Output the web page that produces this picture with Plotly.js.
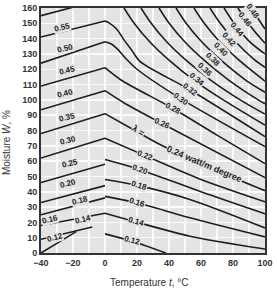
<!DOCTYPE html>
<html><head><meta charset="utf-8">
<script src="https://cdn.plot.ly/plotly-3.0.1.min.js"></script>
<style>body{margin:0;background:#fff}</style>
</head><body><div id="chart" style="width:277px;height:291px"></div>
<script>
// ---- frozen zone (t <= 0): straight lines, W at t=-40 and t=0
const frozenT = [-40, 0];
const frozenW = [[155,166],[141,151.5],[124,138],[109,121],[93.5,106],[78,91],[62,75],[46,58],[33,44],[25,36],[18,26]];
const frozenLowT = [[-40,-8],[-40,-18]];
const frozenLowW = [[9,17],[0,14]];
// ---- thawed zone (t >= 0): lines of constant conductivity
const thawT = {
  '0.12':[0,17.5,38], '0.14':[0,19.4,53,100], '0.16':[0,20,53,100], '0.18':[0,21,53,100],
  '0.20':[0,22,60,100], '0.22':[0,25,60,100], '0.24':[0,17,35.6,87.5,100], '0.26':[0,12,35.6,100],
  '0.28':[0,10,42.5,70,100], '0.30':[0,4,8,13,20,47.8,100], '0.32':[0,3,7.5,12,17,22,53,100],
  '0.34':[11.9,18.1,27.5,40,55.6,74.4,100], '0.36':[22.5,28.75,38.1,50.6,66.25,85,100],
  '0.38':[33.75,40,49.4,61.9,77.5,96.25,100], '0.40':[44.4,50.6,60,72.5,88.1,100],
  '0.42':[55.6,61.9,71.25,83.75,100], '0.44':[65.6,71.9,81.25,93.75,100], '0.46':[74.4,80.6,90,100],
  '0.48':[83.1,89.4,98.75,100], '0.50':[91.3,97.5,100]
};
const thawW = {
  '0.12':[12.5,7.5,0], '0.14':[26,20.3,11,2.6], '0.16':[37,32.8,23,10.5], '0.18':[48,44,35,16.4],
  '0.20':[61,54.4,40,25.6], '0.22':[75,63.6,48,33.4], '0.24':[91,81,70.2,46,40.7], '0.26':[106,98,84.6,49.2],
  '0.28':[121,113,94.4,77,58.4], '0.30':[138,136.5,133,127,120,100.5,69.5], '0.32':[151.5,150,146,139,132,125,106.6,76],
  '0.34':[160,150.2,138.4,125.9,112.8,99.7,83.5], '0.36':[160,150.2,138.4,125.9,112.8,99.7,90.7],
  '0.38':[160,150.2,138.4,125.9,112.8,99.7,97.5], '0.40':[160,150.2,138.4,125.9,112.8,105],
  '0.42':[160,150.2,138.4,125.9,112.2], '0.44':[160,150.2,138.4,125.9,121.3], '0.46':[160,150.2,138.4,130],
  '0.48':[160,150.2,138.4,137.1], '0.50':[160,150.2,146.3]
};
// ---- labels
const frozenLabels = ['0.55','0.50','0.45','0.40','0.35','0.30','0.25','0.20','0.18','0.16','0.14','0.12'];
const frozenLabT = [-26.9,-25,-23.75,-25,-23.75,-23.1,-21.9,-23.1,-15.6,-34.4,-13.75,-31.25];
const frozenLabW = [147.5,133.8,119.3,104.3,88.5,73.4,58.4,45.2,34.1,21.6,21.6,9.8];
const thawLabels = ['0.12','0.14','0.16','0.18','0.20','0.22','0.26','0.28','0.30','0.32','0.34','0.36','0.38','0.40','0.42','0.44','0.46','0.48'];
const thawLabT = [16.9,19.4,20,21.25,21.9,25,35.6,42.5,47.8,53.1,57.5,62.5,67.5,72.5,77.5,82.5,87.5,92.5];
const thawLabW = [7.9,20.3,32.8,44,54.4,63.6,84.6,94.4,100.5,106.6,113.5,120,126.5,133,139.5,146,152.5,158];
const thawLabAngle = [14,16,17,18,19,20,24,28,36,38,40,42,44,46,48,50,52,54];
const mainLabelA = 'λ =', mainLabelB = '0.24 watt/m degree';
const mainLabAT = 21, mainLabAW = 80;
const mainLabBT = 62, mainLabBW = 58;

const LC = '#1e1e1e';
const traces = [];
frozenW.forEach(w => traces.push({x: frozenT, y: w, mode:'lines', line:{color:LC,width:1.6}, hoverinfo:'skip'}));
frozenLowT.forEach((t,i) => traces.push({x: t, y: frozenLowW[i], mode:'lines', line:{color:LC,width:1.6}, hoverinfo:'skip'}));
Object.keys(thawT).forEach(k => traces.push({x: thawT[k], y: thawW[k], mode:'lines', line:{color:LC,width:1.6,shape:'spline',smoothing:0.8}, hoverinfo:'skip'}));

const BG = '#e4e4e4';
const labFont = {family:'Liberation Sans, Arial, sans-serif', size:8, color:'#222', weight:'bold'};
const ann = [];
frozenLabels.forEach((s,i) => ann.push({x:frozenLabT[i], y:frozenLabW[i], text:s, showarrow:false, textangle:-14, font:labFont, bgcolor:BG, borderpad:0}));
thawLabels.forEach((s,i) => ann.push({x:thawLabT[i], y:thawLabW[i], text:s, showarrow:false, textangle:thawLabAngle[i], font:labFont, bgcolor:BG, borderpad:0}));
ann.push({x:mainLabAT, y:mainLabAW, text:mainLabelA, showarrow:false, textangle:33, font:Object.assign({},labFont,{size:9}), bgcolor:BG, borderpad:0});
ann.push({x:mainLabBT, y:mainLabBW, text:mainLabelB, showarrow:false, textangle:23, font:Object.assign({},labFont,{size:9}), bgcolor:BG, borderpad:0});
ann.push({xref:'paper', yref:'paper', x:0.48, y:-0.122, xanchor:'center', yanchor:'middle', showarrow:false,
  text:'Temperature <i>t</i>, °C', font:{family:'Liberation Sans, Arial, sans-serif', size:10, color:'#333'}});
ann.push({xref:'paper', yref:'paper', x:-0.155, y:0.45, xanchor:'center', yanchor:'middle', showarrow:false, textangle:-90,
  text:'Moisture <i>W</i>, %', font:{family:'Liberation Sans, Arial, sans-serif', size:10, color:'#333'}});

const tickFont = {family:'Liberation Sans, Arial, sans-serif', size:9, color:'#333', weight:'bold'};
const layout = {
  width:277, height:291, margin:{l:41, r:12, t:8, b:38},
  paper_bgcolor:'#fff', plot_bgcolor:BG, showlegend:false,
  xaxis:{range:[-40,100], tickvals:[-40,-20,0,20,40,60,80,100], showline:true, mirror:true, linecolor:'#333', linewidth:2,
    ticks:'', tickfont:tickFont, showgrid:true, gridcolor:'#fafafa', gridwidth:1.5, zeroline:false,
    minor:{dtick:10, showgrid:true, gridcolor:'#fafafa', gridwidth:1.5}},
  yaxis:{range:[0,160], dtick:10, showline:true, mirror:true, linecolor:'#333', linewidth:2,
    ticks:'', tickfont:tickFont, showgrid:true, gridcolor:'#fafafa', gridwidth:1.5, zeroline:false},
  annotations: ann
};
Plotly.newPlot('chart', traces, layout, {staticPlot:true, displayModeBar:false});
</script></body></html>
